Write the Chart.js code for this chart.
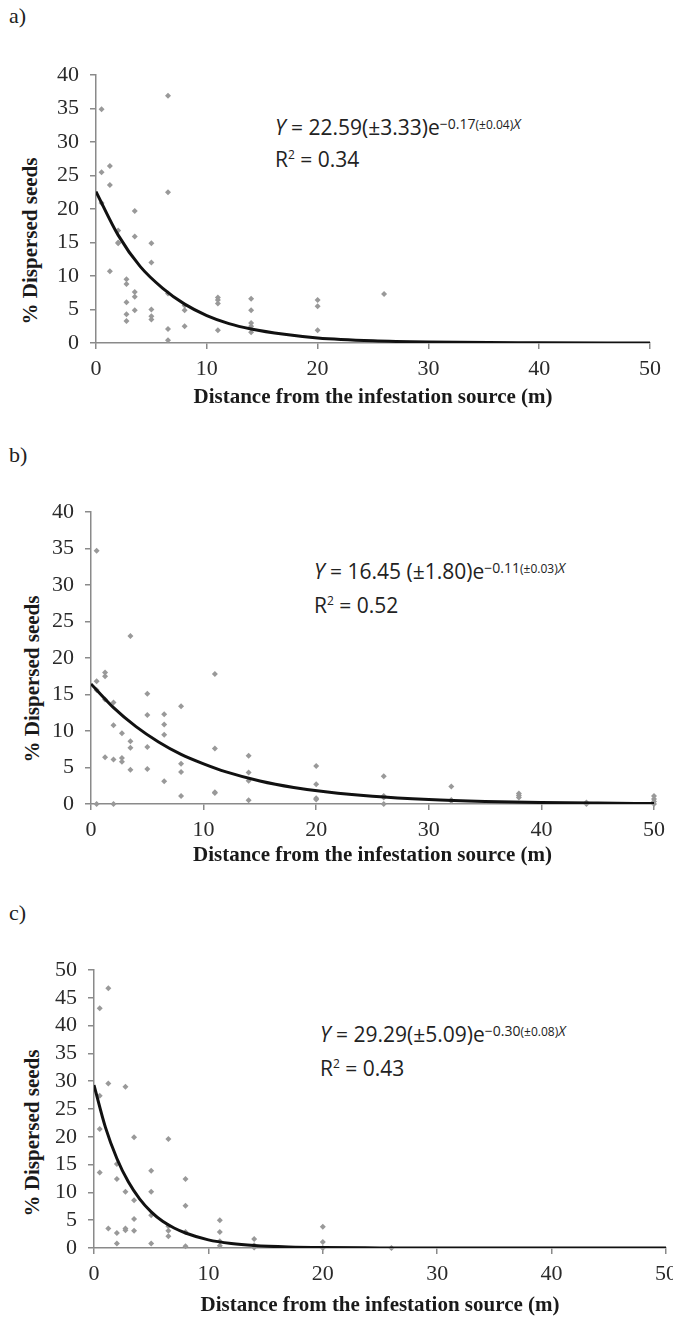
<!DOCTYPE html>
<html>
<head>
<meta charset="utf-8">
<script src="https://cdn.jsdelivr.net/npm/chart.js@4.4.1/dist/chart.umd.min.js"></script>
<style>
  body { margin: 0; background: #fff; width: 673px; height: 1317px; position: relative; overflow: hidden; font-family: "Liberation Serif", serif; }
  canvas { position: absolute; left: 0; }
  .lbl { position: absolute; left: 9px; font-size: 22px; color: #222; line-height: 22px; }
  .ytitle { position: absolute; font-weight: bold; font-size: 21px; color: #1a1a1a; white-space: nowrap; transform: translate(-50%, -50%) rotate(-90deg); }
  .eq { position: absolute; font-family: "Open Sans", sans-serif; font-size: 21px; color: #222; line-height: 28px; white-space: nowrap; }
  .eq .ex { position: relative; top: -6px; font-size: 14px; }
  .eq .ex small { font-size: 12px; }
  .eq .sq { position: relative; top: -8px; font-size: 12px; }
</style>
</head>
<body>

<div class="lbl" style="top:5px">a)</div>
<div class="lbl" style="top:444px">b)</div>
<div class="lbl" style="top:902px">c)</div>

<div class="ytitle" style="left:30px; top:241px">% Dispersed seeds</div>
<div class="ytitle" style="left:32px; top:679px">% Dispersed seeds</div>
<div class="ytitle" style="left:32px; top:1133px">% Dispersed seeds</div>

<div class="eq" style="left:275px; top:113px"><i>Y</i> = 22.59(±3.33)e<span class="ex">−0.17<small>(±0.04)</small><i>X</i></span><br>R<span class="sq">2</span> = 0.34</div>
<div class="eq" style="left:314px; top:556px; line-height:30px"><i>Y</i> = 16.45 (±1.80)e<span class="ex">−0.11<small>(±0.03)</small><i>X</i></span><br>R<span class="sq">2</span> = 0.52</div>
<div class="eq" style="left:320px; top:1019px; line-height:30px"><i>Y</i> = 29.29(±5.09)e<span class="ex">−0.30<small>(±0.08)</small><i>X</i></span><br>R<span class="sq">2</span> = 0.43</div>

<canvas id="chartA" width="673" height="420" style="top:0px"></canvas>
<canvas id="chartB" width="673" height="440" style="top:430px"></canvas>
<canvas id="chartC" width="673" height="437" style="top:880px"></canvas>

<script>
// tick labels
const xTicks = [0, 10, 20, 30, 40, 50];
const yTicksAB = [0, 5, 10, 15, 20, 25, 30, 35, 40];
const yTicksC = [0, 5, 10, 15, 20, 25, 30, 35, 40, 45, 50];

// a) observed points
const distA  = [0.5, 0.5, 0.5, 1.25, 1.25, 1.25, 2, 2, 2, 2.75, 2.75, 2.75, 2.75, 2.75,
                3.5, 3.5, 3.5, 3.5, 3.5, 5, 5, 5, 5, 5, 6.5, 6.5, 6.5, 6.5, 6.5,
                8, 8, 8, 11, 11, 11, 11, 14, 14, 14, 14, 14, 20, 20, 20, 26];
const seedsA = [34.9, 25.5, 20.9, 26.4, 23.6, 10.7, 16.8, 15.0, 14.9, 9.5, 8.8, 6.1, 4.3, 3.3,
                19.7, 15.9, 7.6, 6.9, 4.9, 14.9, 12.0, 5.0, 4.0, 3.5, 36.9, 22.5, 7.4, 2.1, 0.4,
                5.6, 4.9, 2.5, 6.8, 6.4, 5.9, 1.9, 6.6, 4.9, 3.0, 2.5, 1.6, 6.4, 5.5, 1.9, 7.3];
// a) fitted curve
const fitDistA  = [0, 2, 4, 6, 8, 10, 12, 14, 17, 20, 25, 30, 40, 50];
const fitSeedsA = [22.6, 16.1, 11.4, 8.2, 5.8, 4.1, 2.9, 2.1, 1.3, 0.75, 0.32, 0.14, 0.03, 0.0];

// b) observed points
const distB  = [0.5, 0.5, 0.5, 0.5, 1.25, 1.25, 1.25, 1.25, 2, 2, 2, 2, 2.75, 2.75, 2.75,
                3.5, 3.5, 3.5, 3.5, 5, 5, 5, 5, 6.5, 6.5, 6.5, 6.5, 8, 8, 8, 8,
                11, 11, 11, 11, 14, 14, 14, 14, 20, 20, 20, 20, 26, 26, 26, 26,
                32, 32, 32, 38, 38, 38, 44, 44, 50, 50, 50, 50];
const seedsB = [34.7, 16.8, 15.6, 0, 18.0, 17.5, 14.3, 6.4, 13.9, 10.8, 6.1, 0, 9.7, 6.3, 5.8,
                23.0, 8.6, 7.7, 4.7, 15.1, 12.2, 7.8, 4.8, 12.3, 10.9, 9.5, 3.1, 13.4, 5.5, 4.4, 1.1,
                17.8, 7.6, 1.6, 1.5, 6.6, 4.3, 3.2, 0.5, 5.2, 2.7, 0.8, 0.6, 3.8, 1.1, 0.9, 0,
                2.4, 0.55, 0.4, 1.45, 1.15, 0.9, 0.2, 0, 1.1, 0.7, 0.35, 0];
const fitDistB  = [0, 2, 4, 6, 8, 10, 12, 15, 18, 21, 25, 30, 35, 40, 45, 50];
const fitSeedsB = [16.45, 13.2, 10.6, 8.5, 6.8, 5.5, 4.4, 3.16, 2.27, 1.63, 1.05, 0.61, 0.35, 0.2, 0.12, 0.07];

// c) observed points
const distC  = [0.5, 0.5, 0.5, 0.5, 1.25, 1.25, 1.25, 2, 2, 2, 2, 2.75, 2.75, 2.75, 2.75,
                3.5, 3.5, 3.5, 3.5, 5, 5, 5, 5, 6.5, 6.5, 6.5, 6.5, 8, 8, 8, 8,
                11, 11, 11, 11, 14, 14, 14, 20, 20, 20, 26];
const seedsC = [43.1, 27.4, 21.4, 13.6, 46.7, 29.6, 3.5, 15.1, 12.4, 2.7, 0.8, 29.0, 10.1, 3.5, 3.2,
                19.9, 8.6, 5.2, 3.1, 13.9, 10.1, 5.9, 0.8, 19.6, 3.9, 3.1, 2.1, 12.4, 7.6, 2.9, 0.3,
                5.0, 2.9, 1.2, 0.4, 1.6, 0.5, 0.1, 3.8, 1.1, 0, 0];
const fitDistC  = [0, 1, 2, 3, 4, 5, 6, 7, 8, 10, 12, 14, 17, 20, 25, 30, 50];
const fitSeedsC = [29.3, 21.7, 16.1, 11.9, 8.8, 6.5, 4.8, 3.6, 2.7, 1.46, 0.8, 0.44, 0.18, 0.07, 0.02, 0, 0];

const axisGrey = '#8a8a8a';
const tickFont = { family: "'Liberation Serif', 'Times New Roman', serif", size: 22 };

function drawPanel(id, dist, seeds, fitX, fitY, yTicks, box) {
  const pts = dist.map((d, i) => ({ x: d, y: seeds[i] }));
  const fit = fitX.map((d, i) => ({ x: d, y: fitY[i] }));
  new Chart(document.getElementById(id), {
    type: 'scatter',
    data: {
      datasets: [
        {
          type: 'line',
          data: fit,
          borderColor: '#111',
          borderWidth: 3,
          pointRadius: 0,
          cubicInterpolationMode: 'monotone',
          order: 1
        },
        {
          data: pts,
          pointStyle: 'rectRot',
          pointRadius: 3,
          backgroundColor: '#999',
          borderWidth: 0,
          clip: false,
          order: 2
        }
      ]
    },
    options: {
      responsive: false,
      animation: false,
      layout: { padding: { left: 0, right: 673 - box.right, top: box.top, bottom: 0 } },
      plugins: { legend: { display: false }, tooltip: { enabled: false } },
      scales: {
        x: {
          type: 'linear', min: 0, max: 50,
          afterBuildTicks: s => { s.ticks = xTicks.map(v => ({ value: v })); },
          afterFit: s => { s.height = box.h - box.bottom; s.paddingLeft = 0; s.paddingRight = 0; },
          grid: { drawOnChartArea: false, drawTicks: true, tickLength: 6, color: axisGrey, lineWidth: 1.5 },
          border: { display: true, color: axisGrey, width: 1.5 },
          ticks: { font: tickFont, color: '#2a2a2a', padding: 7, maxRotation: 0, autoSkip: false },
          title: {
            display: true,
            text: 'Distance from the infestation source (m)',
            color: '#1a1a1a',
            font: { family: "'Liberation Serif', serif", size: 21, weight: 'bold', lineHeight: 1 },
            padding: { top: 0, bottom: box.titlePad }
          }
        },
        y: {
          type: 'linear', min: 0, max: yTicks[yTicks.length - 1],
          afterBuildTicks: s => { s.ticks = yTicks.map(v => ({ value: v })); },
          afterFit: s => { s.width = box.left; s.paddingTop = 0; s.paddingBottom = 0; },
          grid: { drawOnChartArea: false, drawTicks: true, tickLength: 6, color: axisGrey, lineWidth: 1.5 },
          border: { display: true, color: axisGrey, width: 1.5 },
          ticks: { font: tickFont, color: '#2a2a2a', padding: 11, autoSkip: false }
        }
      }
    }
  });
}

drawPanel('chartA', distA, seedsA, fitDistA, fitSeedsA, yTicksAB,
  { left: 96, right: 650, top: 75, bottom: 343, h: 420, titlePad: 12 });
drawPanel('chartB', distB, seedsB, fitDistB, fitSeedsB, yTicksAB,
  { left: 91, right: 654, top: 82, bottom: 374, h: 440, titlePad: 4 });
drawPanel('chartC', distC, seedsC, fitDistC, fitSeedsC, yTicksC,
  { left: 94, right: 666, top: 90, bottom: 368, h: 437, titlePad: 1 });
</script>
</body>
</html>
